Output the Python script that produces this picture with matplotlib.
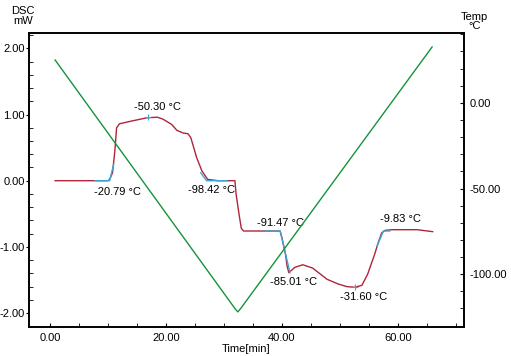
import matplotlib.pyplot as plt
from matplotlib.ticker import MultipleLocator, FormatStrFormatter

plt.rcParams['font.family'] = ['Liberation Sans', 'DejaVu Sans']
plt.rcParams['axes.unicode_minus'] = False

# DSC signal (mW) vs time (min)
dsc_time = [0.9, 10.0, 10.3, 10.8, 11.2, 11.5, 12.0, 14.0, 16.7, 18.5, 19.5, 21.0,
            21.9, 23.0, 23.8, 24.3, 25.3, 26.2, 27.2, 29.0, 31.9, 32.1, 32.6, 33.0,
            33.4, 39.7, 40.0, 40.6, 40.9, 41.2, 42.2, 43.6, 45.3, 47.8, 49.7, 51.2,
            52.6, 53.8, 54.8, 56.0, 56.6, 57.2, 57.8, 59.0, 63.3, 66.0]
dsc_mw = [0.0, 0.0, 0.02, 0.12, 0.45, 0.80, 0.86, 0.90, 0.95, 0.96, 0.93, 0.85,
          0.76, 0.72, 0.71, 0.65, 0.35, 0.15, 0.02, 0.0, 0.0, -0.2, -0.5, -0.72,
          -0.76, -0.76, -0.86, -1.10, -1.29, -1.39, -1.31, -1.27, -1.32, -1.49, -1.56, -1.60,
          -1.61, -1.58, -1.41, -1.11, -0.94, -0.79, -0.75, -0.74, -0.74, -0.77]

# temperature program
temp_time = [0.9, 31.9, 32.4, 32.9, 65.9]
temp_c = [25.0, -120.0, -122.0, -120.0, 32.6]

# analysis tangents (blue)
tangents = [
    ([7.8, 10.3, 11.0], [0.0, 0.0, 0.25]),
    ([26.0, 27.0, 30.5], [0.12, 0.0, 0.0]),
    ([37.1, 39.7, 41.4], [-0.76, -0.76, -1.39]),
    ([56.4, 57.5, 58.6], [-0.99, -0.76, -0.76]),
]
peak_t = [16.9, 52.6]
peak_v = [0.96, -1.61]

# annotations
labels = ['-50.30 °C', '-20.79 °C', '-98.42 °C', '-91.47 °C', '-85.01 °C', '-31.60 °C', '-9.83 °C']
label_t = [18.6, 11.6, 27.8, 39.8, 42.1, 54.1, 60.5]
label_v = [1.12, -0.17, -0.14, -0.64, -1.53, -1.76, -0.58]

fig = plt.figure(figsize=(5.11, 3.56), dpi=100)
ax = fig.add_axes([0.0568, 0.0815, 0.8512, 0.8255])
ax2 = ax.twinx()

ax.plot(dsc_time, dsc_mw, color='#b0243a', lw=1.0, zorder=3)
for tt, vv in tangents:
    ax.plot(tt, vv, color='#3aa6dc', lw=1.0, zorder=4)
ax.plot(peak_t, peak_v, ls='none', marker='+', ms=5, mew=0.8, color='#3aa6dc', zorder=5)
ax2.plot(temp_time, temp_c, color='#13943a', lw=1.0)

for s, tx, vy in zip(labels, label_t, label_v):
    ax.text(tx, vy, s, ha='center', va='center', fontsize=8)

ax.set_xlim(-3.6, 71.4)
ax.set_ylim(-2.21, 2.23)
ax2.set_ylim(-130.8, 40.7)

ax.xaxis.set_major_locator(MultipleLocator(20))
ax.xaxis.set_minor_locator(MultipleLocator(5))
ax.yaxis.set_major_locator(MultipleLocator(1))
ax.yaxis.set_minor_locator(MultipleLocator(0.2))
ax2.yaxis.set_major_locator(MultipleLocator(50))
ax2.yaxis.set_minor_locator(MultipleLocator(10))
ax.xaxis.set_major_formatter(FormatStrFormatter('%.2f'))
ax.yaxis.set_major_formatter(FormatStrFormatter('%.2f'))
ax2.yaxis.set_major_formatter(FormatStrFormatter('%.2f'))

ax.tick_params(axis='y', which='major', direction='out', length=2, labelsize=8, pad=1)
ax.tick_params(axis='y', which='minor', direction='in', length=3)
ax.tick_params(axis='x', which='both', direction='in', length=3, labelsize=8, pad=4)
ax2.tick_params(axis='y', which='both', direction='in', length=3, labelsize=8, pad=4)

for a in (ax, ax2):
    for sp in a.spines.values():
        sp.set_linewidth(1.2)

fig.text(0.045, 0.955, 'DSC\nmW', ha='center', va='center', fontsize=8, linespacing=0.9)
fig.text(0.928, 0.94, 'Temp\n°C', ha='center', va='center', fontsize=8, linespacing=0.9)
ax.set_xlabel('Time[min]', fontsize=8, labelpad=1)

fig.savefig('out.png', dpi=100)
